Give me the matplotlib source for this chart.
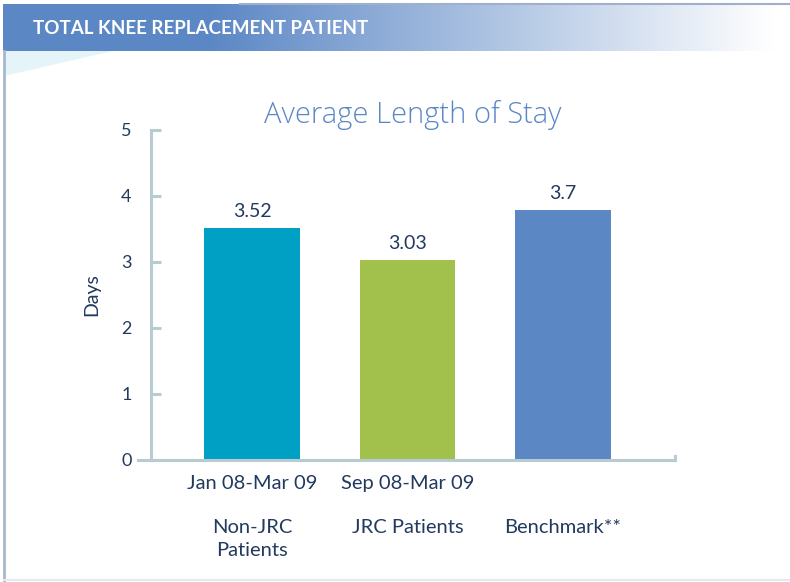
import matplotlib.pyplot as plt
import numpy as np
from matplotlib.patches import Polygon
from matplotlib.lines import Line2D

# data
periods = ["Jan 08-Mar 09", "Sep 08-Mar 09", ""]
groups = ["Non-JRC\nPatients", "JRC Patients", "Benchmark**"]
values = [3.52, 3.03, 3.79]          # bar heights as drawn
value_labels = ["3.52", "3.03", "3.7"]
bar_colors = ["#00a0c4", "#a2c04c", "#5b87c5"]
yticks = [0, 1, 2, 3, 4, 5]

navy = "#213a5e"
axis_col = "#b8cbd0"
plt.rcParams['font.family'] = ['Lato', 'DejaVu Sans']

fig = plt.figure(figsize=(7.9, 5.82), dpi=100)
W, H = 790, 582

def fx(px):
    return px / W

def fy(py):
    return 1 - py / H

# header band with gradient
hax = fig.add_axes([fx(3), fy(51), fx(787), (51 - 4) / H])
hax.set_axis_off()
grad = np.ones((2, 400, 3))
base = np.array([0x5b, 0x87, 0xc5]) / 255
xs = np.linspace(0, 1, 400)
t = np.clip((xs - 0.26) / 0.72, 0, 1)
for i in range(3):
    grad[:, :, i] = base[i] + (1 - base[i]) * t
hax.imshow(grad, aspect='auto', extent=[0, 1, 0, 1])
hax.set_xlim(0, 1)
hax.set_ylim(0, 1)
fig.text(fx(33), fy(29), "TOTAL KNEE REPLACEMENT PATIENT", color="white",
         fontsize=13.5, fontweight='bold', va='center', ha='left')

# top thin line on the right, light triangle, frame lines
fig.add_artist(Line2D([fx(240), 1], [fy(4), fy(4)], color="#9fb0c8", lw=1.5))
fig.add_artist(Polygon([[fx(4), fy(51)], [fx(113), fy(51)], [fx(4), fy(76)]],
                       closed=True, facecolor="#e4f4f8", edgecolor='none'))
fig.add_artist(Line2D([fx(4), fx(4)], [fy(51), fy(581)], color="#a8b8cc", lw=2))
fig.add_artist(Line2D([fx(4), 1], [fy(580), fy(580)], color="#e6e9ec", lw=1.5))

# main axes
ax = fig.add_axes([fx(151), fy(460), fx(675 - 151), (460 - 130) / H])
x = np.arange(len(values))
ax.bar(x, values, width=0.615, color=bar_colors)
for xi, v, lab in zip(x, values, value_labels):
    ax.text(xi, v + 0.12, lab, ha='center', va='bottom', fontsize=14, color=navy)

ax.set_xlim(-0.65, 2.72)
ax.set_ylim(0, 5)
ax.set_yticks(yticks)
ax.set_xticks(x)
ax.set_xticklabels(periods, fontsize=14.5, color=navy)
ax.tick_params(axis='x', length=0, pad=11)
ax.tick_params(axis='y', direction='in', length=7, width=2.2, color=axis_col,
               labelsize=13, labelcolor=navy, pad=14)
for s in ['top', 'right']:
    ax.spines[s].set_visible(False)
for s in ['left', 'bottom']:
    ax.spines[s].set_color(axis_col)
    ax.spines[s].set_linewidth(2.2)

# small end marks on the base line
ax.add_line(Line2D([-0.024, 0], [0, 0], transform=ax.transAxes, color=axis_col,
                   lw=2.2, clip_on=False))
ax.add_line(Line2D([1, 1], [0, 0.012], transform=ax.transAxes, color=axis_col,
                   lw=2.2, clip_on=False))

for xi, g in zip(x, groups):
    ax.text(xi, -0.18, g, transform=ax.get_xaxis_transform(), ha='center',
            va='top', fontsize=14.5, color=navy, linespacing=1.4)

ax.set_ylabel("Days", fontsize=14, color=navy, labelpad=15)
ax.set_title("Average Length of Stay", fontsize=21, color="#5b87c5",
             family=['Open Sans', 'Lato', 'DejaVu Sans'], fontweight='light', pad=4)

fig.savefig("out.png", dpi=100)
